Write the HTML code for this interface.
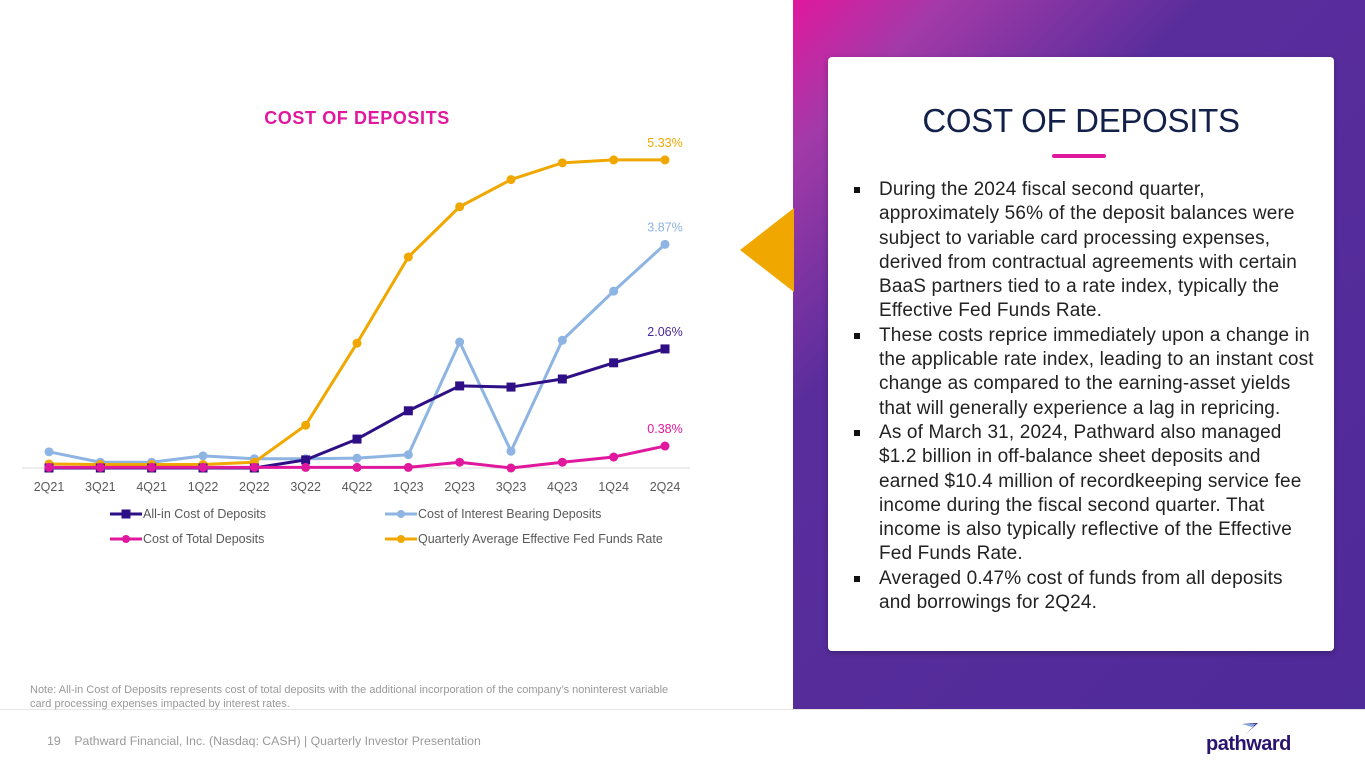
<!DOCTYPE html>
<html><head><meta charset="utf-8">
<style>
*{margin:0;padding:0;box-sizing:border-box}
body{width:1365px;height:768px;position:relative;overflow:hidden;background:#fff;font-family:"Liberation Sans",sans-serif}
.abs{position:absolute}
#panel{left:793px;top:0;width:572px;height:710px;background:linear-gradient(135deg,#e0189e 0%,#a23aa8 12%,#5a2d9c 32%,#4f2a99 100%)}
#card{left:828px;top:57px;width:506px;height:594px;background:#fff;border-radius:4px;box-shadow:0 2px 6px rgba(0,0,0,.25)}
#card-title{left:0;width:506px;top:45px;text-align:center;font-size:33px;color:#13214a;letter-spacing:-0.3px}
#card-bar{left:224px;top:97px;width:54px;height:4px;background:#e0189e;border-radius:2px}
#bullets{left:25px;top:121px;font-size:19px;line-height:24.3px;color:#222;white-space:nowrap;letter-spacing:0.15px}
.b{position:relative;padding-left:26px}
.b:before{content:"";position:absolute;left:1px;top:9px;width:6px;height:6px;background:#111}
#note{left:30px;top:683px;font-size:11px;line-height:14px;color:#999}
#footer{left:47px;top:734px;font-size:12.3px;color:#999}
#rule{left:0;top:709px;width:1365px;height:1px;background:#e6e6e6}
</style></head><body>
<div id="panel" class="abs"></div>
<svg class="abs" style="left:738px;top:208px" width="56" height="84"><polygon points="56,0 56,84 2,42" fill="#f0a800"/></svg>
<div id="card" class="abs">
 <div id="card-title" class="abs">COST OF DEPOSITS</div>
 <div id="card-bar" class="abs"></div>
 <div id="bullets" class="abs">
  <div class="b">During the 2024 fiscal second quarter,<br>approximately 56% of the deposit balances were<br>subject to variable card processing expenses,<br>derived from contractual agreements with certain<br>BaaS partners tied to a rate index, typically the<br>Effective Fed Funds Rate.</div>
  <div class="b">These costs reprice immediately upon a change in<br>the applicable rate index, leading to an instant cost<br>change as compared to the earning-asset yields<br>that will generally experience a lag in repricing.</div>
  <div class="b">As of March 31, 2024, Pathward also managed<br>$1.2 billion in off-balance sheet deposits and<br>earned $10.4 million of recordkeeping service fee<br>income during the fiscal second quarter. That<br>income is also typically reflective of the Effective<br>Fed Funds Rate.</div>
  <div class="b">Averaged 0.47% cost of funds from all deposits<br>and borrowings for 2Q24.</div>
 </div>
</div>
<div id="rule" class="abs"></div>
<div id="note" class="abs">Note: All-in Cost of Deposits represents cost of total deposits with the additional incorporation of the company’s noninterest variable<br>card processing expenses impacted by interest rates.</div>
<div id="footer" class="abs">19&nbsp;&nbsp;&nbsp;&nbsp;Pathward Financial, Inc. (Nasdaq: CASH) | Quarterly Investor Presentation</div>
<div class="abs" style="left:1206px;top:733px;font-size:20px;font-weight:bold;color:#2a1470;letter-spacing:-0.5px">pathward</div>
<svg class="abs" style="left:1240px;top:722px" width="20" height="14"><polygon points="2,2 18,1 6,12 14,4" fill="#2a1470"/><polygon points="2,2 16,2 12,5" fill="#7fa6e0"/></svg>

<svg id="chart" class="abs" style="left:0;top:0" width="790" height="560">
 <text x="357" y="124" text-anchor="middle" font-size="18" font-weight="bold" fill="#e0189e" font-family="Liberation Sans" letter-spacing="0.6">COST OF DEPOSITS</text>
 <line x1="22" y1="468" x2="690" y2="468" stroke="#d9d9d9"/>
 <g id="xt"></g><g id="series"></g><g id="legend"></g>
</svg>
<script>
const categories=["2Q21","3Q21","4Q21","1Q22","2Q22","3Q22","4Q22","1Q23","2Q23","3Q23","4Q23","1Q24","2Q24"];
const allIn=[0.0,0.0,0.0,0.0,0.0,0.14,0.50,0.99,1.42,1.40,1.54,1.82,2.06];
const interestBearing=[0.28,0.10,0.10,0.21,0.16,0.16,0.17,0.23,2.18,0.29,2.21,3.06,3.87];
const totalDep=[0.01,0.01,0.01,0.01,0.01,0.01,0.01,0.01,0.10,0.00,0.10,0.19,0.38];
const fedFunds=[0.07,0.06,0.06,0.06,0.10,0.74,2.16,3.65,4.52,4.99,5.28,5.33,5.33];
const seriesNames=["All-in Cost of Deposits","Cost of Interest Bearing Deposits","Cost of Total Deposits","Quarterly Average Effective Fed Funds Rate"];
const NS="http://www.w3.org/2000/svg";
const xS=i=>49+i*(616/(categories.length-1));
const yS=v=>468-v*57.8;
function mk(tag,attrs,parent){const e=document.createElementNS(NS,tag);for(const k in attrs)e.setAttribute(k,attrs[k]);parent.appendChild(e);return e;}
const xt=document.getElementById('xt');
categories.forEach((c,i)=>{const t=mk('text',{x:xS(i),y:491,'text-anchor':'middle','font-size':12.5,fill:'#595959','font-family':'Liberation Sans'},xt);t.textContent=c;

});
const sg=document.getElementById('series');
const defs=[{d:interestBearing,c:'#8db4e2',m:'circle',n:'interest-bearing'},{d:fedFunds,c:'#f0a800',m:'circle',n:'fed-funds'},{d:allIn,c:'#2e0f86',m:'square',n:'all-in'},{d:totalDep,c:'#e0189e',m:'circle',n:'total-deposits'}];
defs.forEach(s=>{const g=mk('g',{},sg);


const pl=mk('polyline',{points:s.d.map((v,i)=>xS(i)+','+yS(v)).join(' '),fill:'none',stroke:s.c,'stroke-width':3,'stroke-linejoin':'round'},g);


s.d.forEach((v,i)=>{let p;if(s.m==='square')p=mk('rect',{x:xS(i)-4.5,y:yS(v)-4.5,width:9,height:9,fill:s.c},g);else p=mk('circle',{cx:xS(i),cy:yS(v),r:4.5,fill:s.c},g);

});});
const last=categories.length-1;
[[fedFunds,'#f0a800'],[interestBearing,'#8db4e2'],[allIn,'#4a2a9a'],[totalDep,'#e0189e']].forEach(([d,c])=>{const t=mk('text',{x:xS(last),y:yS(d[last])-13,'text-anchor':'middle','font-size':12.5,fill:c,'font-family':'Liberation Sans'},sg);t.textContent=d[last].toFixed(2)+'%';

});
const lg=document.getElementById('legend');
const lpos=[[110,514,'#2e0f86','square'],[385,514,'#8db4e2','circle'],[110,539,'#e0189e','circle'],[385,539,'#f0a800','circle']];
seriesNames.forEach((n,i)=>{const [x,y,c,m]=lpos[i];const g=mk('g',{},lg);


mk('line',{x1:x,y1:y,x2:x+32,y2:y,stroke:c,'stroke-width':3},g);
if(m==='square')mk('rect',{x:x+11.5,y:y-4.5,width:9,height:9,fill:c},g);else mk('circle',{cx:x+16,cy:y,r:4,fill:c},g);
const t=mk('text',{x:x+33,y:y+4,'font-size':12.5,fill:'#595959','font-family':'Liberation Sans'},g);t.textContent=n;});
</script>
</body></html>
